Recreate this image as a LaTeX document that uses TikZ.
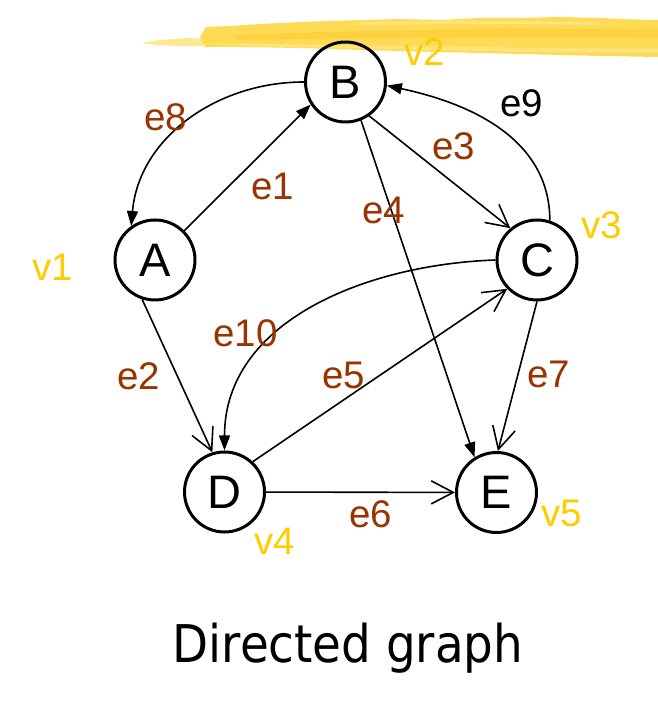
\documentclass[tikz,border=0pt]{standalone}
\usepackage{fontspec}
\setmainfont{Liberation Sans}
\newfontfamily\titlefont{DejaVu Sans Condensed}
\usetikzlibrary{arrows.meta}
\definecolor{edgebrown}{HTML}{993300}
\definecolor{vyellow}{HTML}{FFCC00}
\definecolor{brushmain}{HTML}{FFDB55}
\definecolor{brushdark}{HTML}{F9C828}
\definecolor{brushlight}{HTML}{FFE98F}
\begin{document}
\begin{tikzpicture}[x=1pt, y=1pt,
                        vertex/.style = {circle, draw, line width = 3pt, minimum size = 80pt, inner sep = 0pt, font = \fontsize{47}{47}\selectfont},
                        elabel/.style = {text = edgebrown, inner sep = 0pt, font = \fontsize{38.5}{38.5}\selectfont},
                        vlabel/.style = {text = vyellow, inner sep = 0pt, font = \fontsize{38.5}{38.5}\selectfont},
                        link/.style = {line width = 1.6pt},
                        openarrow/.style = {link, -{Straight Barb[length = 22pt, width = 23pt, line width = 1.6pt]}},
                        fillarrow/.style = {link, -{Triangle[length = 15pt, width = 11pt]}}]
                        \useasboundingbox (0, 0) rectangle (658, 705);
                        \fill [brushlight] (141, 662) -- (160, 665) -- (190, 667) -- (203, 666) -- (203, 659) -- (180, 659) -- (155, 660) -- cycle;
                        \fill [brushmain] (200, 668) -- (206, 678) -- (230, 679) -- (260, 681) -- (300, 683) -- (330, 684) -- (360, 685) -- (400, 686) -- (440, 685) -- (480, 687) -- (520, 687) -- (560, 688) -- (600, 687) -- (620, 686) -- (658, 685) -- (658, 648) -- (600, 649) -- (520, 651) -- (440, 653) -- (360, 655) -- (300, 657) -- (240, 658) -- (205, 658) -- cycle;
                        \fill [brushdark, opacity = 0.45] (230, 670) -- (320, 673) -- (420, 675) -- (520, 677) -- (658, 676) -- (658, 667) -- (540, 668) -- (430, 667) -- (330, 666) -- (240, 665) -- cycle;
                        \fill [brushlight, opacity = 0.7] (206, 662) -- (260, 661) -- (330, 660) -- (430, 659) -- (540, 657) -- (658, 656) -- (658, 652) -- (540, 653) -- (430, 655) -- (330, 657) -- (250, 659) -- cycle;
                        \fill [brushlight, opacity = 0.7] (360, 683) -- (440, 684) -- (520, 684) -- (600, 683) -- (600, 680) -- (520, 681) -- (440, 681) -- (360, 680) -- cycle;
                        \node [vertex] (A) at (155, 445) {A};
                        \node [vertex] (B) at (345.5, 623) {B};
                        \node [vertex] (C) at (537, 445) {C};
                        \node [vertex] (D) at (224.5, 213) {D};
                        \node [vertex] (E) at (496.5, 212.5) {E};
                        \draw [fillarrow] (A.45) -- (B.213);
                        \draw [openarrow] (A.-108) -- (D.107);
                        \draw [openarrow] (B.-55) -- (C.130);
                        \draw [fillarrow] (B.-68) -- (E.122);
                        \draw [openarrow] (D.47) -- (C.-136);
                        \draw [openarrow] (D) -- (E);
                        \draw [openarrow] (C.-90) -- (E.88);
                        \draw [fillarrow] (B.west) to [out = 180, in = 85] (A.125);
                        \draw [fillarrow] (C.72) to [out = 90, in = -12] (B.-5);
                        \draw [fillarrow] (C.west) to [out = 182, in = 90] (D.north);
                        \node [elabel] (e1) at (273, 519) {e1};
                        \node [elabel] (e2) at (139, 329) {e2};
                        \node [elabel] (e3) at (453.5, 558.5) {e3};
                        \node [elabel] (e4) at (384, 495) {e4};
                        \node [elabel] (e5) at (344, 330) {e5};
                        \node [elabel] (e6) at (371, 191) {e6};
                        \node [elabel] (e7) at (549, 330.5) {e7};
                        \node [elabel] (e8) at (166, 588) {e8};
                        \node [elabel, text = black] (e9) at (521.5, 601.5) {e9};
                        \node [elabel] (e10) at (245.5, 371.5) {e10};
                        \node [vlabel] (v1) at (53, 438) {v1};
                        \node [vlabel] (v2) at (425, 653) {v2};
                        \node [vlabel] (v3) at (602, 480) {v3};
                        \node [vlabel] (v4) at (274.5, 164) {v4};
                        \node [vlabel] (v5) at (562, 192) {v5};
                        \node [anchor = base, inner sep = 0pt, font = \titlefont\fontsize{52}{52}\selectfont] (title) at (348, 42) {Directed graph};
                    \end{tikzpicture}
\end{document}
